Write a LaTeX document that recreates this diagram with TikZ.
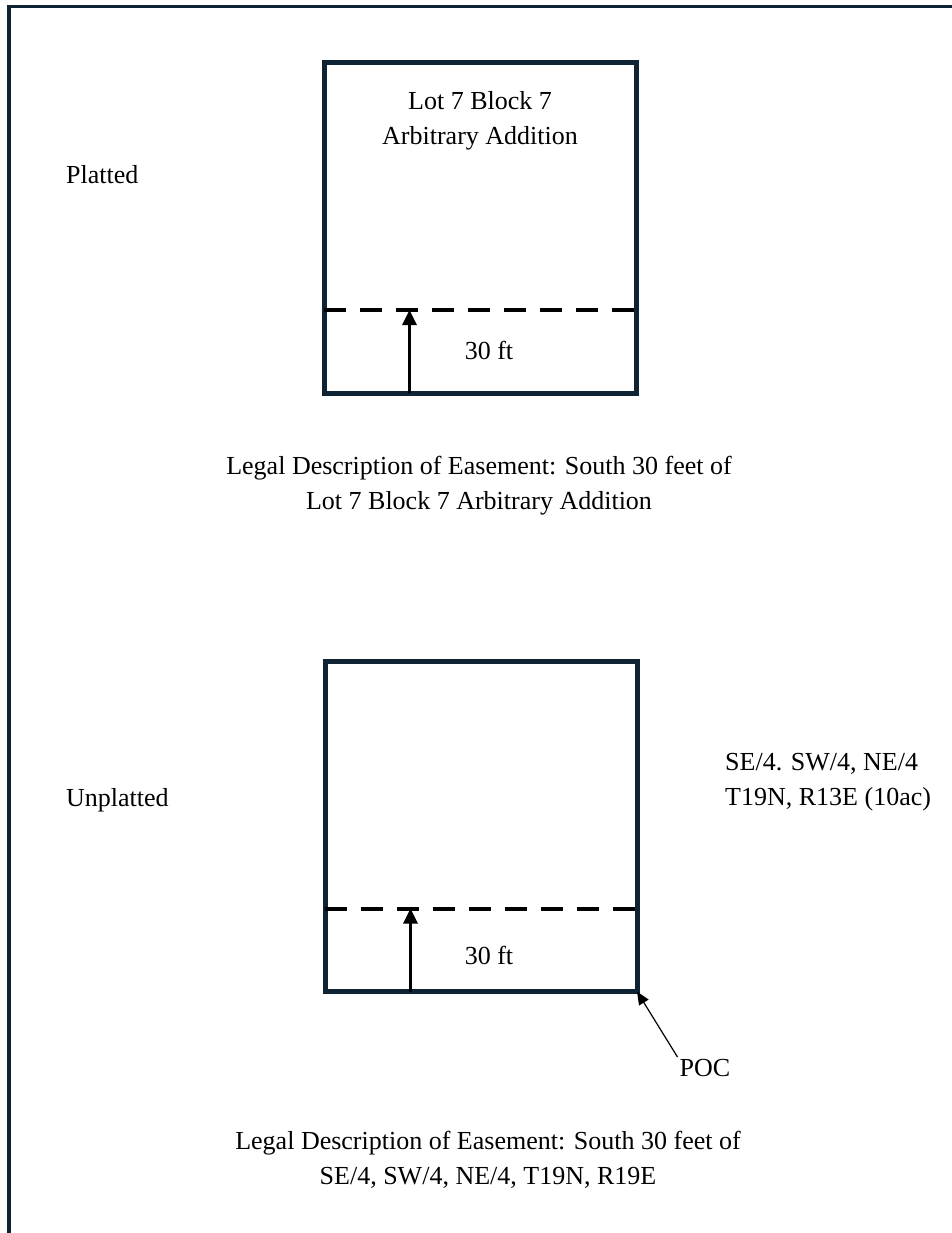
\documentclass[tikz,border=0pt]{standalone}
\usepackage{fontspec}
\setmainfont{Liberation Serif}
\usetikzlibrary{arrows.meta}

\definecolor{lotcolor}{HTML}{0E2434}

\tikzset{
	lotbox/.style={draw=lotcolor, line width=5pt, minimum width=312pt, minimum height=330pt, inner sep=0pt, outer sep=0pt},
	cutline/.style={black, line width=4pt, dash pattern=on 22pt off 14pt},
	pointer/.style={black, line width=3pt, -{Triangle[length=15pt,width=14pt]}},
	pocpointer/.style={black, line width=1.2pt, -{Triangle[length=13pt,width=11pt]}},
	txt/.style={font=\fontsize{26pt}{35pt}\selectfont, inner sep=2pt}
}

\begin{document}
\begin{tikzpicture}[x=1pt,y=-1pt]

	\useasboundingbox (0,0) rectangle (952,1233);
	\clip (0,0) rectangle (952,1233);

% moldura
	\draw[lotcolor, line width=3.5pt] (9,6.5) rectangle (975,1255);

% loteado
	\node[lotbox] (lot) at (480,228) {};
	\node[txt, align=center] (lotname) at (480,121) {Lot 7 Block 7\\Arbitrary Addition};
	\node[txt, anchor=west] (platted) at (64,175) {Platted};
	\node[txt] (lotdepth) at (489,350) {30 ft};
	\node[txt, align=center] (lotlegal) at (479,486) {Legal Description of Easement: South 30 feet of\\Lot 7 Block 7 Arbitrary Addition};

% nao loteado
	\node[lotbox] (parcel) at (481,826.5) {};
	\node[txt, anchor=west] (unplatted) at (64,800) {Unplatted};
	\node[txt, anchor=west, align=left] (parcelname) at (723,782) {SE/4. SW/4, NE/4\\T19N, R13E (10ac)};
	\node[txt] (parceldepth) at (489,955) {30 ft};
	\node[txt] (poc) at (705,1068) {POC};
	\node[txt, align=center] (parcellegal) at (488,1160) {Legal Description of Easement: South 30 feet of\\SE/4, SW/4, NE/4, T19N, R19E};

% faixa de 30 ft
	\foreach \b in {lot,parcel} {
		\draw[cutline] ([yshift=83pt]\b.south west) -- ([yshift=83pt]\b.south east);
		\coordinate (\b-foot) at ([xshift=85.5pt]\b.south west);
		\coordinate (\b-head) at ([xshift=85.5pt,yshift=83pt]\b.south west);
		\draw[pointer] (\b-foot) -- (\b-head);
	}

	\draw[pocpointer] (poc.north west) -- (parcel.south east);

\end{tikzpicture}
\end{document}
